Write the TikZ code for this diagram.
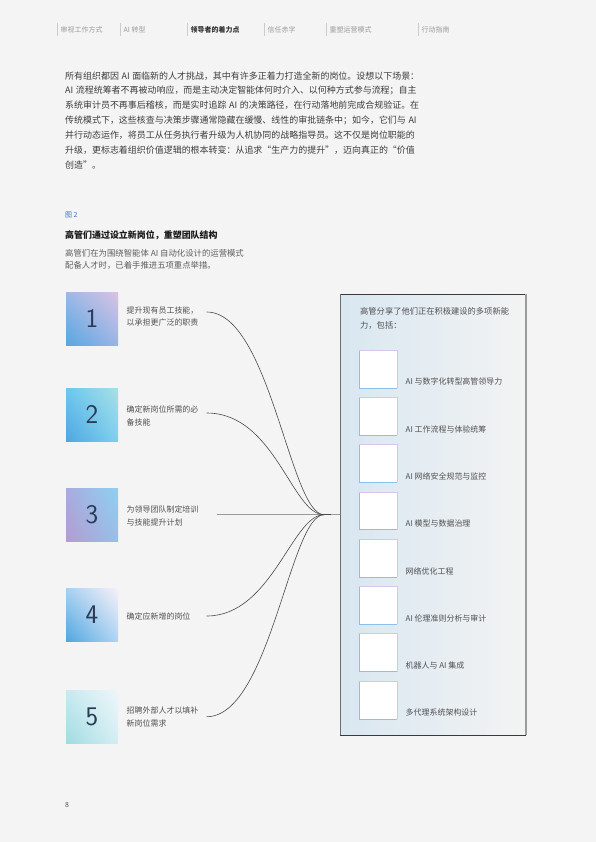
\documentclass[tikz,border=0pt]{standalone}
\usepackage{fontspec}
\setmainfont{Noto Sans CJK SC}
\usetikzlibrary{calc,shadings}
\XeTeXlinebreaklocale "zh"
\XeTeXlinebreakskip=0pt plus 1pt
\newcommand{\gapAI}{\hspace{2.6bp}}
\definecolor{pagebg}{HTML}{F4F4F4}
\definecolor{tabtxt}{HTML}{9A9A9A}
\definecolor{tabact}{HTML}{333333}
\definecolor{tabsep}{HTML}{CCCCCC}
\definecolor{bodytxt}{HTML}{3C3C3C}
\definecolor{figblue}{HTML}{3F6FC4}
\definecolor{subtxt}{HTML}{5E5E5E}
\definecolor{itemtxt}{HTML}{505050}
\definecolor{numcol}{HTML}{2B3A55}
\definecolor{curvecol}{HTML}{4A4A4A}
\definecolor{straightcol}{HTML}{9A9A9A}
\definecolor{panelL}{HTML}{D9E7F1}
\definecolor{panelR}{HTML}{F3F3F3}
\definecolor{panelTop}{HTML}{3A3A3A}
\definecolor{panelSide}{HTML}{6E6E6E}
\definecolor{panelRight}{HTML}{9C9C9C}
\definecolor{sqblue}{HTML}{8CC0EC}
\definecolor{sqlav}{HTML}{D6C6EC}
% box gradient corners
\definecolor{aUL}{HTML}{9DB8E6}\definecolor{aUR}{HTML}{D9C3E3}\definecolor{aLL}{HTML}{56A7E0}\definecolor{aLR}{HTML}{9AB4E6}
\definecolor{bUL}{HTML}{6CC8F0}\definecolor{bUR}{HTML}{A8E0E4}\definecolor{bLL}{HTML}{4DA6E0}\definecolor{bLR}{HTML}{7DD0F0}
\definecolor{cUL}{HTML}{A8ACDE}\definecolor{cUR}{HTML}{8ED0F2}\definecolor{cLL}{HTML}{B39CD0}\definecolor{cLR}{HTML}{98BEE8}
\definecolor{dUL}{HTML}{A8D0F0}\definecolor{dUR}{HTML}{F6F0F8}\definecolor{dLL}{HTML}{4EA6E0}\definecolor{dLR}{HTML}{B0D4F2}
\definecolor{eUL}{HTML}{C8EAF0}\definecolor{eUR}{HTML}{EEF6F9}\definecolor{eLL}{HTML}{A0DCE0}\definecolor{eLR}{HTML}{D4EEF3}
\begin{document}
\begin{tikzpicture}[x=1bp,y=-1bp,
  tabsepline/.style={draw=tabsep,line width=0.6bp},
  tabtext/.style={anchor=west,inner sep=0,text=tabtxt,font=\fontsize{7}{8}\selectfont},
  bodyline/.style={anchor=west,inner sep=0,text=bodytxt,font=\fontsize{9}{10}\selectfont},
  itemtext/.style={anchor=west,inner sep=0,align=left,text=itemtxt,font=\fontsize{8}{13}\selectfont},
  numbox/.style={minimum width=52bp,minimum height=53bp,inner sep=0,text=numcol,font=\sffamily\fontsize{27}{27}\selectfont},
  curve/.style={draw=curvecol,line width=0.6bp},
  sqbox/.style={fill=white,minimum width=37.4bp,minimum height=37.4bp,inner sep=0},
  lab/.style={anchor=west,inner sep=0,text=itemtxt,font=\fontsize{8}{10}\selectfont}]
\fill[pagebg] (0,0) rectangle (596,842);
\useasboundingbox (0,0) rectangle (596,842);

% header tabs
\foreach \sx in {57,120,187,264,326,418}
  \draw[tabsepline] (\sx,23) -- (\sx,36);
\node[tabtext] (t1) at (60.5,30) {审视工作方式};
\node[tabtext] (t2) at (123.5,30) {AI 转型};
\node[tabtext,text=tabact,font=\fontsize{7}{8}\selectfont\bfseries] (t3) at (190.5,30) {领导者的着力点};
\node[tabtext] (t4) at (267.5,30) {信任赤字};
\node[tabtext] (t5) at (329.5,30) {重塑运营模式};
\node[tabtext] (t6) at (421.5,30) {行动指南};

% paragraph
\node[bodyline] (p1) at (65,76) {\makebox[356bp][s]{所有组织都因\gapAI AI\gapAI 面临新的人才挑战，其中有许多正着力打造全新的岗位。设想以下场景：}};
\node[bodyline] (p2) at (65,90.8) {\makebox[356bp][s]{AI\gapAI 流程统筹者不再被动响应，而是主动决定智能体何时介入、以何种方式参与流程；自主}};
\node[bodyline] (p3) at (65,105.6) {\makebox[356bp][s]{系统审计员不再事后稽核，而是实时追踪\gapAI AI\gapAI 的决策路径，在行动落地前完成合规验证。在}};
\node[bodyline] (p4) at (65,120.4) {\makebox[356bp][s]{传统模式下，这些核查与决策步骤通常隐藏在缓慢、线性的审批链条中；如今，它们与\gapAI AI}};
\node[bodyline] (p5) at (65,135.2) {\makebox[356bp][s]{并行动态运作，将员工从任务执行者升级为人机协同的战略指导员。这不仅是岗位职能的}};
\node[bodyline] (p6) at (65,150) {\makebox[356bp][s]{升级，更标志着组织价值逻辑的根本转变：从追求“生产力的提升”，迈向真正的“价值}};
\node[bodyline] (p7) at (65,164.8) {创造”。};

% figure caption
\node[anchor=west,inner sep=0,text=figblue,font=\fontsize{7}{8}\selectfont] (fig) at (65,215) {图 2};
\node[anchor=west,inner sep=0,text=black!90,font=\fontsize{9}{10}\selectfont\bfseries] (title) at (65,235) {高管们通过设立新岗位，重塑团队结构};
\node[anchor=west,inner sep=0,text=subtxt,font=\fontsize{8.4}{11.5}\selectfont,align=left] (sub) at (65,259.5) {高管们在为围绕智能体 AI 自动化设计的运营模式\\配备人才时，已着手推进五项重点举措。};

% numbered boxes
\node[numbox,upper left=aUL,upper right=aUR,lower left=aLL,lower right=aLR] (b1) at (92,318.5) {1};
\node[numbox,upper left=bUL,upper right=bUR,lower left=bLL,lower right=bLR] (b2) at (92,414.5) {2};
\node[numbox,upper left=cUL,upper right=cUR,lower left=cLL,lower right=cLR] (b3) at (92,515) {3};
\node[numbox,upper left=dUL,upper right=dUR,lower left=dLL,lower right=dLR] (b4) at (92,615) {4};
\node[numbox,upper left=eUL,upper right=eUR,lower left=eLL,lower right=eLR] (b5) at (92,716.5) {5};

% item texts
\node[itemtext] (i1) at (126.5,316.5) {提升现有员工技能，\\以承担更广泛的职责};
\node[itemtext] (i2) at (126.5,415.7) {确定新岗位所需的必\\备技能};
\node[itemtext] (i3) at (126.5,516.3) {为领导团队制定培训\\与技能提升计划};
\node[itemtext] (i4) at (126.5,616) {确定应新增的岗位};
\node[itemtext] (i5) at (126.5,716.7) {招聘外部人才以填补\\新岗位需求};

% panel
\node[left color=panelL,right color=panelR,minimum width=185.2bp,minimum height=440.7bp,inner sep=0] (panel) at (433.1,514.65) {};
\draw[panelTop,line width=1bp] (panel.north west) -- (panel.north east);
\draw[panelSide,line width=0.9bp] (panel.north west) -- (panel.south west);
\draw[panelRight,line width=1.8bp] (panel.north east) -- (panel.south east);
\draw[panelTop,line width=1.2bp] (panel.south west) -- (panel.south east);
\node[anchor=west,inner sep=0,align=left,text=itemtxt,font=\fontsize{8.3}{14}\selectfont] (ph) at (360,318) {高管分享了他们正在积极建设的多项新能\\力，包括：};

\foreach \t [count=\i from 0] in {AI 与数字化转型高管领导力,AI 工作流程与体验统筹,AI 网络安全规范与监控,AI 模型与数据治理,网络优化工程,AI 伦理准则分析与审计,机器人与 AI 集成,多代理系统架构设计}{
  \node[sqbox] (sq\i) at (378,369+47.29*\i) {};
  \draw[sqblue,line width=0.8bp] (sq\i.north west) -- (sq\i.south west) -- (sq\i.south east);
  \draw[sqlav,line width=0.8bp] (sq\i.south east) -- (sq\i.north east) -- (sq\i.north west);
  \node[lab] (lab\i) at ($(sq\i.south east)+(8.6,-6)$) {\t};
}

% connectors
\coordinate (s1) at (206.7,312);
\coordinate (s2) at (206.7,413);
\coordinate (s3) at (216.7,514.7);
\coordinate (s4) at (206.7,616);
\coordinate (s5) at (206.7,716.7);
\coordinate (m) at (324,514.7);
\draw[straightcol,line width=1.3bp] (s3) -- (s3 -| panel.west);
\draw[curve] (s1) .. controls (270,312) and (290,514.7) .. (m);
\draw[curve] (s2) .. controls (275,413) and (292,514.7) .. (m);
\draw[curve] (s4) .. controls (272,616) and (292,514.7) .. (m);
\draw[curve] (s5) .. controls (270,716.7) and (290,514.7) .. (m);
\draw[curvecol,line width=1.2bp] (m) -- ++(7,0);

% page number
\node[anchor=west,inner sep=0,text=itemtxt,font=\fontsize{7}{8}\selectfont] (pg) at (65,805) {8};
\end{tikzpicture}
\end{document}
